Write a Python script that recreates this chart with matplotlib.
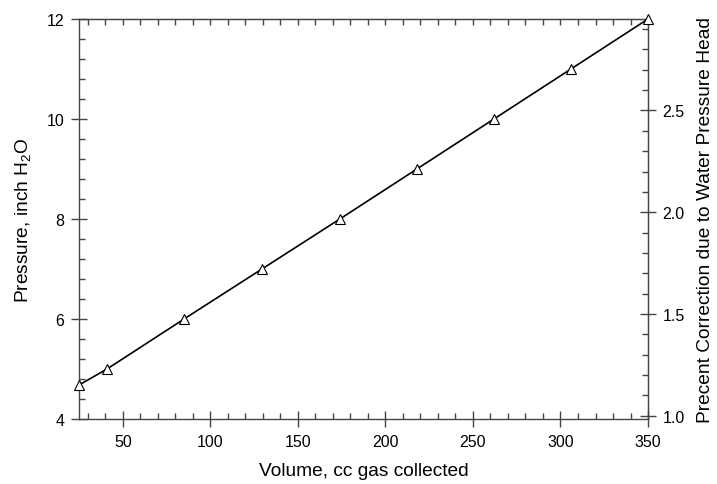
import matplotlib
matplotlib.use("Agg")
import matplotlib.pyplot as plt
from matplotlib.ticker import MultipleLocator

plt.rcParams['font.family'] = ['Liberation Sans', 'DejaVu Sans']
plt.rcParams['mathtext.fontset'] = 'custom'
plt.rcParams['mathtext.rm'] = 'Liberation Sans'
plt.rcParams['mathtext.it'] = 'Liberation Sans:italic'

# gas volume collected vs. water head pressure
volume_cc = [25, 41, 85, 129.5, 174, 218, 262, 306, 350]
pressure_inh2o = [4.68, 5.0, 6.0, 7.0, 8.0, 9.0, 10.0, 11.0, 12.0]

# inches of water in one atmosphere
INH2O_PER_ATM = 406.8

fig = plt.figure(figsize=(7.17, 4.85), dpi=100)
ax = fig.add_axes([0.1102, 0.134, 0.7936, 0.8248])

ax.plot(volume_cc, pressure_inh2o, color='black', lw=1.2,
        marker='^', markersize=7.5, markerfacecolor='white',
        markeredgecolor='black', markeredgewidth=0.8, clip_on=False,
        zorder=5)

ax.set_xlim(25, 350)
ax.set_ylim(4, 12)
ax.xaxis.set_major_locator(MultipleLocator(50))
ax.xaxis.set_minor_locator(MultipleLocator(10))
ax.yaxis.set_major_locator(MultipleLocator(2))
ax.yaxis.set_minor_locator(MultipleLocator(0.4))

spine_col = '#444444'
for s in ax.spines.values():
    s.set_color(spine_col)
    s.set_linewidth(1.0)

ax.tick_params(which='major', direction='inout', length=11, width=1.0,
               color=spine_col, labelsize=11.5, pad=5, top=False, right=False)
ax.tick_params(which='minor', direction='in', length=4.5, width=1.0,
               color=spine_col, top=False, right=False)

# mirrored ticks along the top edge
top = ax.secondary_xaxis('top')
top.xaxis.set_major_locator(MultipleLocator(50))
top.xaxis.set_minor_locator(MultipleLocator(10))
top.tick_params(which='both', direction='in', length=4.5, width=1.0,
                color=spine_col, labeltop=False)
top.spines['top'].set_color(spine_col)

# right axis: percent correction = head / atmospheric pressure
right = ax.secondary_yaxis('right', functions=(lambda p: p * 100 / INH2O_PER_ATM,
                                               lambda c: c * INH2O_PER_ATM / 100))
right.yaxis.set_major_locator(MultipleLocator(0.5))
right.yaxis.set_minor_locator(MultipleLocator(0.1))
right.yaxis.set_major_formatter(plt.FormatStrFormatter('%.1f'))
right.tick_params(which='major', direction='inout', length=11, width=1.0,
                  color=spine_col, labelsize=11.5, pad=5)
right.tick_params(which='minor', direction='in', length=4.5, width=1.0,
                  color=spine_col)
right.spines['right'].set_color(spine_col)
right.set_ylabel('Precent Correction due to Water Pressure Head', fontsize=13.8,
                 labelpad=9)

# no offset texts anywhere
for a in (ax, top, right):
    a.xaxis.get_offset_text().set_visible(False)
    a.yaxis.get_offset_text().set_visible(False)

ax.set_xlabel('Volume, cc gas collected', fontsize=13.8, labelpad=10)
ax.set_ylabel('Pressure, inch H$_2$O', fontsize=13.8, labelpad=10)

fig.savefig('out.png', dpi=100)
